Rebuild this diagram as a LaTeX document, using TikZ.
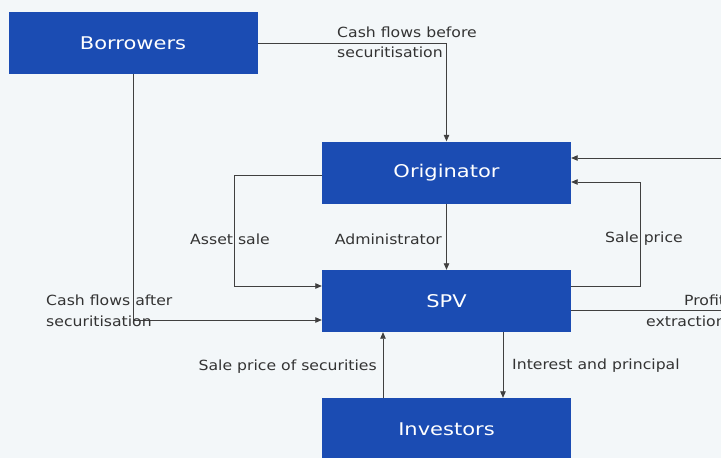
\documentclass[tikz,border=0pt]{standalone}
\usepackage{fontspec}
\setmainfont{DejaVu Sans}
\newfontfamily\boxfont{DejaVu Sans}[FakeStretch=1.2]
\newfontfamily\lblfont{DejaVu Sans}[FakeStretch=1.12]
\usetikzlibrary{arrows.meta}
\definecolor{bgcol}{HTML}{F3F7F9}
\definecolor{boxblue}{HTML}{1B4CB3}
\definecolor{linecol}{HTML}{404040}
\definecolor{txtcol}{HTML}{333333}
\tikzset{
  party/.style={fill=boxblue, draw=none, minimum width=249pt, minimum height=62pt,
    inner sep=0pt, text=white, font=\boxfont\fontsize{17.5}{19}\selectfont},
  flow/.style={draw=linecol, line width=0.8pt, -{Triangle[length=6.5pt,width=5.5pt]}},
  plain/.style={draw=linecol, line width=0.8pt},
  lbl/.style={text=txtcol, inner sep=0pt, font=\lblfont\fontsize{14}{21}\selectfont, align=left}
}
\begin{document}
\begin{tikzpicture}[x=1pt, y=-1pt]
  \fill[bgcol] (0,0) rectangle (721,458);
  \useasboundingbox (0,0) rectangle (721,458);

  % parties
  \node[party] (bor) at (133,43) {Borrowers};
  \node[party] (ori) at (446.5,172.5) {Originator};
  \node[party] (spv) at (446.5,301) {SPV};
  \node[party] (inv) at (446.5,429) {Investors};

  % free ends at the right margin
  \coordinate (rtop) at (721,158);
  \coordinate (rprofit) at (721,310);
  \coordinate (xup) at (383,0);
  \coordinate (xdown) at (503,0);

  % flows
  \draw[flow] (bor.east) -| (ori.north);
  \draw[flow] (bor.south) |- ([yshift=-19pt]spv.west);
  \draw[flow] ([yshift=-2.5pt]ori.west) -- ++(-87pt,0) |- ([yshift=15pt]spv.west);
  \draw[flow] (ori.south) -- (spv.north);
  \draw[flow] ([yshift=15pt]spv.east) -- ++(69pt,0) |- ([yshift=-9.5pt]ori.east);
  \draw[flow] (rtop) -- (ori.east |- rtop);
  \draw[plain] ([yshift=-9pt]spv.east) -- (rprofit);
  \draw[flow] (inv.north -| xup) -- (spv.south -| xup);
  \draw[flow] (spv.south -| xdown) -- (inv.north -| xdown);

  % labels
  \node[lbl, anchor=west] (l1) at (337,32) {Cash flows before};
  \node[lbl, anchor=west] (l2) at (337,52) {securitisation};
  \node[lbl, anchor=west] (l3) at (46,300) {Cash flows after};
  \node[lbl, anchor=west] (l4) at (46,321) {securitisation};
  \node[lbl] (l5) at (230,239) {Asset sale};
  \node[lbl, anchor=east] (l6) at (442,239) {Administrator};
  \node[lbl] (l7) at (644,239) {Sale price};
  \node[lbl, anchor=west] (l8) at (684,300) {Profit};
  \node[lbl, anchor=west] (l9) at (646,321) {extraction};
  \node[lbl, anchor=east] (l10) at (377,367) {Sale price of securities};
  \node[lbl, anchor=west] (l11) at (512,366) {Interest and principal};
\end{tikzpicture}
\end{document}
